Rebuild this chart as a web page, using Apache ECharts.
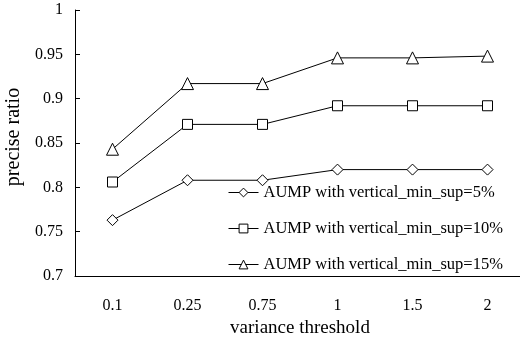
<!DOCTYPE html>
<html>
<head>
<meta charset="utf-8">
<script src="https://cdn.jsdelivr.net/npm/echarts@6/dist/echarts.min.js"></script>
<style>
  html, body { margin: 0; padding: 0; background: #fff; }
  #main { width: 520px; height: 341px; }
</style>
</head>
<body>
<div id="main"></div>
<script>
// categories on x axis
var thresholds = ['0.1', '0.25', '0.75', '1', '1.5', '2'];
// precise ratio per vertical_min_sup
var sup5 = [0.763, 0.808, 0.808, 0.820, 0.820, 0.820];
var sup10 = [0.806, 0.871, 0.871, 0.892, 0.892, 0.892];
var sup15 = [0.843, 0.917, 0.917, 0.946, 0.946, 0.948];
var names = ['AUMP with vertical_min_sup=5%', 'AUMP with vertical_min_sup=10%', 'AUMP with vertical_min_sup=15%'];

var font = '"Liberation Serif", "DejaVu Serif", serif';
var myChart = echarts.init(document.getElementById('main'));

function mkSeries(name, data, symbol, size) {
    return {
        name: name,
        type: 'line',
        data: data,
        symbol: symbol,
        symbolSize: size,
        showAllSymbol: true,
        lineStyle: { color: '#000', width: 1 },
        itemStyle: { color: '#fff', borderColor: '#000', borderWidth: 1 },
        emphasis: { disabled: true },
        z: 3
    };
}

var option = {
    animation: false,
    backgroundColor: '#fff',
    grid: { left: 75, right: -5, top: 10, bottom: 65, outerBoundsMode: 'none', containLabel: false },
    legend: {
        orient: 'vertical',
        left: 223,
        top: 179,
        itemGap: 19,
        itemWidth: 30,
        itemHeight: 11,
        itemStyle: { color: '#fff', borderColor: '#000', borderWidth: 1 },
        lineStyle: { color: '#000', width: 1 },
        textStyle: { fontFamily: font, fontSize: 16.5, color: '#000' },
        data: names
    },
    xAxis: {
        type: 'category',
        data: thresholds,
        name: 'variance threshold',
        nameLocation: 'middle',
        nameGap: 37,
        nameTextStyle: { fontFamily: font, fontSize: 19, color: '#000' },
        axisLine: { lineStyle: { color: '#000', width: 1 } },
        axisTick: { inside: true, length: 5, lineStyle: { color: '#000' } },
        axisLabel: { fontFamily: font, fontSize: 16, color: '#000', margin: 22 }
    },
    yAxis: {
        type: 'value',
        min: 0.7,
        max: 1,
        interval: 0.05,
        name: 'precise ratio',
        nameLocation: 'middle',
        nameGap: 40,
        nameTextStyle: { fontFamily: font, fontSize: 20, color: '#000', padding: [0, 0, 0, 12] },
        axisLine: { show: true, lineStyle: { color: '#000', width: 1 } },
        axisTick: { show: true, inside: true, length: 5, lineStyle: { color: '#000' } },
        splitLine: { show: false },
        axisLabel: {
            fontFamily: font, fontSize: 16, color: '#000', margin: 12,
            formatter: function (v) { return String(+v.toFixed(2)); }
        }
    },
    series: [
        mkSeries(names[0], sup5, 'diamond', 11),
        mkSeries(names[1], sup10, 'rect', 10),
        mkSeries(names[2], sup15, 'triangle', 12)
    ]
};

myChart.setOption(option);
</script>
</body>
</html>
